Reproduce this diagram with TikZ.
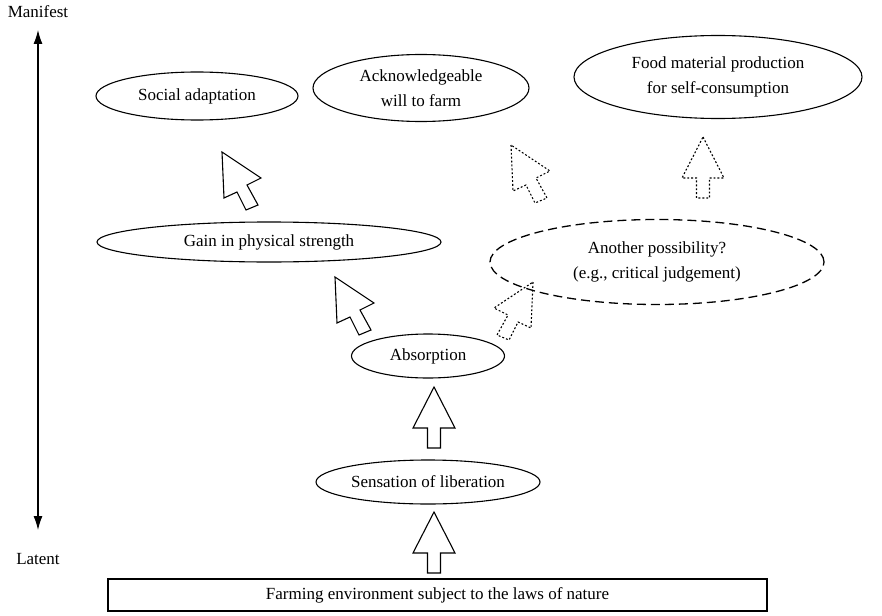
\documentclass[tikz,border=0pt]{standalone}
\usepackage{fontspec}
\setmainfont{Liberation Serif}
\usetikzlibrary{shapes.geometric,arrows.meta}
\begin{document}
\begin{tikzpicture}[x=1pt,y=-1pt,
  every node/.style={font=\fontsize{17}{25}\selectfont},
  oval/.style={draw,ellipse,line width=1.1pt,inner sep=0pt,align=center},
  dashedoval/.style={oval,dash pattern=on 9pt off 5pt,line width=1.3pt},
  dottedline/.style={line width=1.9pt,dash pattern=on 1.9pt off 2pt},
  cursor/.pic={\draw[line width=1.1pt,line join=miter,pic actions]
      (0,0) -- (2,46) -- (15,40) -- (24,58) -- (36,53) -- (25,33) -- (39,26) -- cycle;},
  uparrow/.pic={\draw[line width=1.1pt,line join=miter,pic actions]
      (0,0) -- (21,41) -- (6.5,41) -- (6.5,61) -- (-6.5,61) -- (-6.5,41) -- (-21,41) -- cycle;}
]
\useasboundingbox (0,0) rectangle (882,615);

% vertical scale from latent to manifest
\node (manifest) at (38,12) {Manifest};
\node (latent) at (38,559) {Latent};
\coordinate (top) at (38,30);
\coordinate (bottom) at (38,530);
\draw[line width=1.1pt,{Latex[length=14pt,width=9pt]}-{Latex[length=14pt,width=9pt]}] (top) -- (bottom);

% base
\node[draw,line width=1.1pt,minimum width=659pt,minimum height=32pt,inner sep=0pt] (env) at (437.5,595)
  {Farming environment subject to the laws of nature};

% ellipses
\node[oval,minimum width=224pt,minimum height=44pt] (liberation) at (428,482) {Sensation of liberation};
\node[oval,minimum width=153pt,minimum height=44pt] (absorption) at (428,356) {Absorption};
\node[oval,minimum width=344pt,minimum height=40pt] (strength) at (269,242) {Gain in physical strength};
\node[dashedoval,minimum width=334pt,minimum height=85pt] (possibility) at (657,262)
  {Another possibility?\\(e.g., critical judgement)};
\node[oval,minimum width=202pt,minimum height=48pt] (social) at (197,96) {Social adaptation};
\node[oval,minimum width=216pt,minimum height=67pt] (will) at (421,88) {Acknowledgeable\\will to farm};
\node[oval,minimum width=288pt,minimum height=83pt] (food) at (718,77)
  {Food material production\\for self-consumption};

% block arrows between the stages
\pic at (434,512) {uparrow};
\pic at (434,387) {uparrow};
\pic at (335,277) {cursor};
\pic at (222,152) {cursor};
\pic[dottedline,xscale=-1] at (533,282) {cursor};
\pic[dottedline] at (511,145) {cursor};
\pic[dottedline] at (703,137) {uparrow};
\end{tikzpicture}
\end{document}
